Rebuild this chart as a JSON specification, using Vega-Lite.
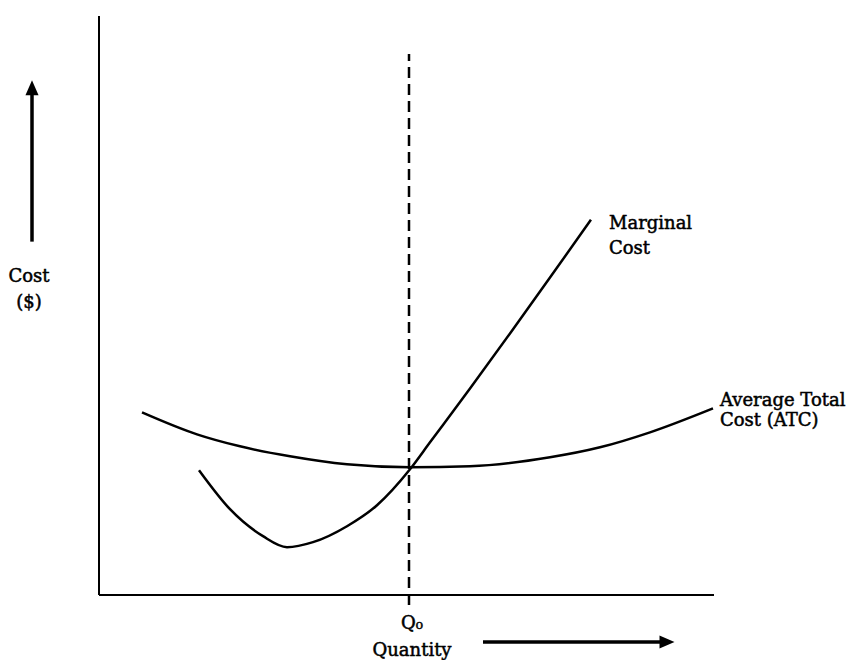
{
  "$schema": "https://vega.github.io/schema/vega-lite/v6.json",
  "width": 851,
  "height": 660,
  "padding": 0,
  "autosize": {"type": "fit", "contains": "padding"},
  "background": "white",
  "config": {"view": {"stroke": null}},
  "datasets": {
    "axes": [
      {"x": 0, "y": 0, "x2": 0, "y2": 580},
      {"x": 0, "y": 0, "x2": 615, "y2": 0}
    ],
    "qline": [{"x": 310, "y": -10, "x2": 310, "y2": 542}],
    "shafts": [
      {"x": -67, "y": 354, "x2": -67, "y2": 504},
      {"x": 384, "y": -47, "x2": 564, "y2": -47}
    ],
    "headUp": [{"x": -67, "y": 508}],
    "headRight": [{"x": 568, "y": -47}],
    "curves": [
      {"curve": "ATC", "x": 43, "y": 183},
      {"curve": "ATC", "x": 98, "y": 161},
      {"curve": "ATC", "x": 141, "y": 149},
      {"curve": "ATC", "x": 191, "y": 139},
      {"curve": "ATC", "x": 248, "y": 131},
      {"curve": "ATC", "x": 311, "y": 128},
      {"curve": "ATC", "x": 371, "y": 129},
      {"curve": "ATC", "x": 451, "y": 138},
      {"curve": "ATC", "x": 501, "y": 148},
      {"curve": "ATC", "x": 551, "y": 163},
      {"curve": "ATC", "x": 614, "y": 187},
      {"curve": "MC", "x": 100, "y": 125},
      {"curve": "MC", "x": 131, "y": 86},
      {"curve": "MC", "x": 164, "y": 59},
      {"curve": "MC", "x": 188, "y": 48},
      {"curve": "MC", "x": 214, "y": 53},
      {"curve": "MC", "x": 248, "y": 69},
      {"curve": "MC", "x": 278, "y": 90},
      {"curve": "MC", "x": 311, "y": 126},
      {"curve": "MC", "x": 331, "y": 153},
      {"curve": "MC", "x": 371, "y": 207},
      {"curve": "MC", "x": 411, "y": 262},
      {"curve": "MC", "x": 451, "y": 318},
      {"curve": "MC", "x": 492, "y": 376}
    ],
    "labelsLeft": [
      {"x": 510, "y": 372, "text": "Marginal"},
      {"x": 510, "y": 347, "text": "Cost"},
      {"x": 621, "y": 194, "text": "Average Total"},
      {"x": 621, "y": 174, "text": "Cost (ATC)"}
    ],
    "labelsCenter": [
      {"x": -70, "y": 319, "text": "Cost"},
      {"x": -70, "y": 293, "text": "($)"},
      {"x": 313, "y": -29, "text": "Q₀"},
      {"x": 313, "y": -56, "text": "Quantity"}
    ]
  },
  "encoding": {
    "x": {"field": "x", "type": "quantitative", "axis": null, "scale": {"domain": [-99, 752], "nice": false, "zero": false}},
    "y": {"field": "y", "type": "quantitative", "axis": null, "scale": {"domain": [-64, 596], "nice": false, "zero": false}}
  },
  "layer": [
    {
      "data": {"name": "axes"},
      "mark": {"type": "rule", "color": "black", "strokeWidth": 2},
      "encoding": {"x2": {"field": "x2"}, "y2": {"field": "y2"}}
    },
    {
      "data": {"name": "qline"},
      "mark": {"type": "rule", "color": "black", "strokeWidth": 2.5, "strokeDash": [11, 6]},
      "encoding": {"x2": {"field": "x2"}, "y2": {"field": "y2"}}
    },
    {
      "data": {"name": "shafts"},
      "mark": {"type": "rule", "color": "black", "strokeWidth": 3.5},
      "encoding": {"x2": {"field": "x2"}, "y2": {"field": "y2"}}
    },
    {
      "data": {"name": "headUp"},
      "mark": {"type": "point", "filled": true, "color": "black", "opacity": 1, "size": 225, "shape": "M0,-1L-0.87,1L0.87,1Z"}
    },
    {
      "data": {"name": "headRight"},
      "mark": {"type": "point", "filled": true, "color": "black", "opacity": 1, "size": 225, "shape": "M1,0L-1,-0.87L-1,0.87Z"}
    },
    {
      "data": {"name": "curves"},
      "mark": {"type": "line", "color": "black", "strokeWidth": 2.5, "interpolate": "monotone"},
      "encoding": {"detail": {"field": "curve"}}
    },
    {
      "data": {"name": "labelsLeft"},
      "mark": {"type": "text", "align": "left", "baseline": "middle", "font": "DejaVu Serif", "fontSize": 18, "fill": "black", "stroke": "black", "strokeWidth": 0.5},
      "encoding": {"text": {"field": "text"}}
    },
    {
      "data": {"name": "labelsCenter"},
      "mark": {"type": "text", "align": "center", "baseline": "middle", "font": "DejaVu Serif", "fontSize": 18, "fill": "black", "stroke": "black", "strokeWidth": 0.5},
      "encoding": {"text": {"field": "text"}}
    }
  ]
}
